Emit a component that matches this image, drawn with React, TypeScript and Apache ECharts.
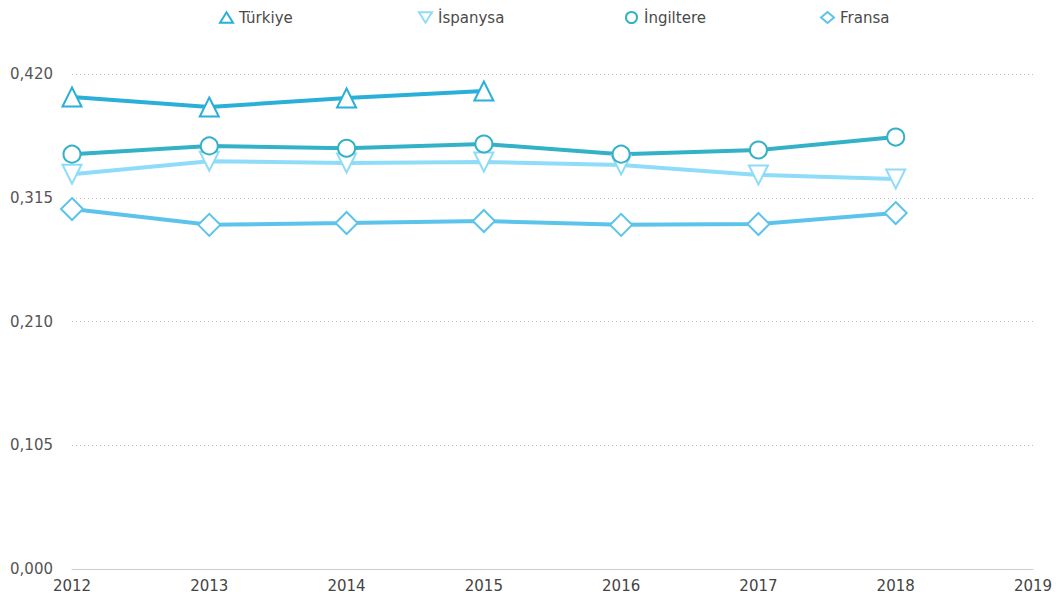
import React, { useEffect, useRef } from "react";
import * as echarts from "echarts";

const years = ["2012", "2013", "2014", "2015", "2016", "2017", "2018", "2019"];
const turkiye = [0.4005, 0.392, 0.3996, 0.4056, null, null, null, null];
const ispanya = [0.335, 0.346, 0.3445, 0.3453, 0.3428, 0.3343, 0.331, null];
const ingiltere = [0.352, 0.359, 0.357, 0.3606, 0.352, 0.3555, 0.3665, null];
const fransa = [0.3054, 0.292, 0.2936, 0.2953, 0.292, 0.2927, 0.302, null];

const FONT = "DejaVu Sans, Liberation Sans, sans-serif";
const DOWN_TRI = "path://M0,0L10,0L5,8Z";
const UP_TRI = "path://M5,0L10,8L0,8Z";

const seriesDefs = [
  { name: "Türkiye", data: turkiye, color: "#2aafd9", symbol: "triangle", icon: UP_TRI, rotate: 0, legendLeft: 214 },
  { name: "İspanysa", data: ispanya, color: "#8fdcf8", symbol: "triangle", icon: DOWN_TRI, rotate: 180, legendLeft: 413 },
  { name: "İngiltere", data: ingiltere, color: "#33b1c6", symbol: "circle", icon: "circle", rotate: 0, legendLeft: 620 },
  { name: "Fransa", data: fransa, color: "#5cc4ea", symbol: "diamond", icon: "diamond", rotate: 0, legendLeft: 815 },
];

export default function App() {
  const ref = useRef<HTMLDivElement>(null);
  useEffect(() => {
    if (!ref.current) return;
    const chart = echarts.init(ref.current, null, { renderer: "svg" });
    chart.setOption({
      animation: false,
      backgroundColor: "#ffffff",
      textStyle: { fontFamily: FONT },
      legend: seriesDefs.map((s) => ({
        top: 5,
        left: s.legendLeft,
        itemWidth: 13,
        itemHeight: 11,
        itemGap: 6,
        textStyle: { fontFamily: FONT, fontSize: 15, color: "#4a4a4a", padding: [0, 0, 0, 1] },
        data: [
          {
            name: s.name,
            icon: s.icon,
            itemStyle: { color: "#ffffff", borderColor: s.color, borderWidth: 2 },
          },
        ],
      })),
      grid: { left: 72, right: 23, top: 74, bottom: 31, containLabel: false },
      xAxis: {
        type: "category",
        data: years,
        boundaryGap: false,
        axisLine: { show: true, lineStyle: { color: "#cccccc", width: 1 } },
        axisTick: { show: false },
        axisLabel: { color: "#444", fontSize: 15, fontFamily: FONT, margin: 9 },
        splitLine: { show: false },
      },
      yAxis: {
        type: "value",
        min: 0,
        max: 0.42,
        interval: 0.105,
        axisLine: { show: false },
        axisTick: { show: false },
        axisLabel: {
          color: "#555",
          fontSize: 15,
          fontFamily: FONT,
          margin: 19,
          formatter: (v: number) => v.toFixed(3).replace(".", ","),
        },
        splitLine: { show: true, lineStyle: { color: "#bbbbbb", type: [1, 3], width: 1 } },
      },
      series: seriesDefs.map((s) => ({
        name: s.name,
        type: "line",
        data: s.data,
        symbol: s.symbol,
        symbolRotate: s.rotate,
        symbolSize: s.symbol === "diamond" ? 22 : s.symbol === "circle" ? 17 : 19,
        showSymbol: true,
        lineStyle: { color: s.color, width: 4 },
        itemStyle: { color: "#ffffff", borderColor: s.color, borderWidth: 2 },
        connectNulls: false,
      })),
    });
    return () => chart.dispose();
  }, []);
  return <div ref={ref} style={{ width: 1056, height: 600, position: "absolute", left: 0, top: 0 }} />;
}
